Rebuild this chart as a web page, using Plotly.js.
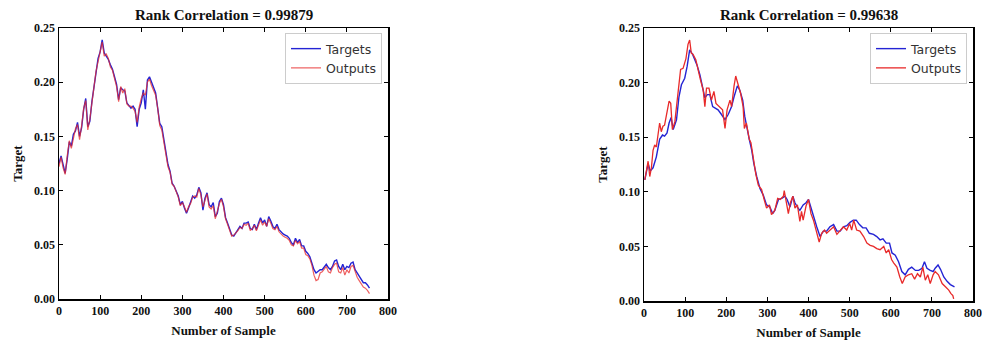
<!DOCTYPE html>
<html>
<head>
<meta charset="utf-8">
<script src="https://cdn.plot.ly/plotly-3.0.1.min.js"></script>
<style>html,body{margin:0;padding:0;background:#fff;}#chart{width:982px;height:340px;}</style>
</head>
<body>
<div id="chart"></div>
<script>
// ---- Left panel data (sample number, step 5) ----
const leftSamples = [0,5,10,15,20,25,30,35,40,45,50,55,60,65,70,75,80,85,90,95,100,105,110,115,120,125,130,135,140,145,150,155,160,165,170,175,180,185,190,195,200,205,210,215,220,225,230,235,240,245,250,255,260,265,270,275,280,285,290,295,300,305,310,315,320,325,330,335,340,345,350,355,360,365,370,375,380,385,390,395,400,405,410,415,420,425,430,435,440,445,450,455,460,465,470,475,480,485,490,495,500,505,510,515,520,525,530,535,540,545,550,555,560,565,570,575,580,585,590,595,600,605,610,615,620,625,630,635,640,645,650,655,660,665,670,675,680,685,690,695,700,705,710,715,720,725,730,735,740,745,750,755];
const leftTargets = [.125,.132,.124,.116,.129,.145,.141,.152,.155,.163,.150,.158,.175,.185,.159,.164,.182,.195,.207,.222,.228,.239,.227,.224,.221,.216,.212,.205,.198,.184,.195,.193,.192,.181,.179,.176,.178,.175,.159,.175,.181,.193,.175,.202,.205,.199,.195,.190,.178,.162,.159,.147,.135,.124,.118,.107,.104,.100,.095,.087,.090,.084,.079,.084,.089,.095,.093,.096,.103,.098,.082,.093,.098,.087,.085,.089,.076,.079,.090,.093,.087,.075,.070,.064,.059,.058,.061,.064,.067,.065,.070,.070,.071,.065,.064,.069,.064,.070,.075,.070,.073,.067,.076,.072,.067,.065,.069,.064,.062,.060,.059,.058,.056,.052,.050,.056,.052,.055,.049,.049,.044,.042,.039,.033,.027,.024,.026,.027,.027,.030,.032,.029,.027,.030,.035,.036,.030,.027,.032,.027,.030,.029,.033,.034,.027,.024,.021,.018,.015,.015,.013,.010];
const leftOutputs = [.122,.131,.121,.115,.132,.146,.139,.149,.157,.161,.147,.160,.176,.183,.156,.166,.180,.197,.210,.219,.230,.237,.224,.226,.222,.214,.211,.204,.196,.182,.196,.190,.194,.180,.178,.178,.176,.173,.163,.177,.185,.190,.188,.200,.203,.197,.192,.188,.176,.160,.156,.145,.132,.122,.117,.106,.104,.099,.094,.086,.089,.085,.080,.085,.088,.094,.095,.094,.102,.096,.085,.091,.097,.085,.083,.086,.074,.081,.088,.092,.085,.074,.069,.063,.058,.059,.061,.063,.066,.065,.069,.068,.070,.063,.065,.068,.063,.068,.073,.068,.071,.067,.074,.070,.065,.064,.067,.062,.060,.058,.057,.056,.054,.050,.049,.054,.051,.053,.047,.047,.041,.040,.037,.031,.022,.017,.018,.024,.025,.028,.030,.025,.024,.029,.032,.033,.025,.024,.029,.022,.027,.024,.030,.031,.025,.020,.017,.014,.011,.010,.008,.005];

// ---- Right panel data ----
const rightTargetSamples = [2,10,15,22,30,38,45,50,56,61,66,71,79,85,91,99,105,111,118,123,129,136,142,148,154,160,167,172,180,188,197,205,213,219,227,233,240,245,249,256,262,267,274,282,290,298,306,313,318,327,335,343,348,355,362,367,373,379,387,394,400,406,412,420,428,436,444,452,461,469,477,485,493,501,509,516,524,532,540,548,558,566,574,581,589,597,603,611,619,627,635,643,651,660,668,676,682,688,696,703,708,715,721,729,737,745,755];
const rightTargets = [.111,.126,.119,.122,.132,.148,.152,.151,.154,.163,.168,.157,.166,.187,.198,.204,.215,.230,.226,.222,.216,.207,.197,.186,.189,.189,.178,.177,.175,.171,.166,.171,.178,.187,.197,.193,.184,.169,.160,.148,.138,.126,.114,.103,.097,.088,.086,.080,.083,.093,.094,.096,.093,.086,.096,.090,.086,.083,.088,.090,.093,.085,.079,.068,.059,.064,.064,.068,.070,.064,.064,.068,.069,.072,.074,.074,.070,.067,.067,.062,.061,.059,.056,.057,.053,.053,.044,.042,.036,.027,.024,.029,.031,.028,.028,.030,.036,.030,.028,.027,.030,.033,.029,.022,.018,.015,.013];
const rightOutputSamples = [2,6,10,14,18,22,26,30,34,38,42,46,50,56,61,65,69,75,79,84,89,95,102,107,111,115,119,126,132,137,144,148,152,158,164,170,175,184,191,197,202,209,213,219,223,229,235,241,244,249,256,260,266,272,278,286,292,298,305,310,318,325,331,339,341,347,351,356,362,367,373,379,383,387,394,400,406,412,420,426,432,439,444,452,461,469,477,485,493,500,505,510,517,525,534,542,550,558,566,574,583,589,595,602,607,615,622,628,635,643,651,658,665,672,678,684,690,696,703,708,716,725,733,741,746,751,753];
const rightOutputs = [.111,.120,.128,.114,.122,.138,.143,.141,.151,.163,.155,.160,.161,.175,.183,.181,.157,.164,.178,.193,.212,.213,.222,.235,.239,.227,.226,.221,.210,.203,.193,.178,.195,.195,.184,.192,.181,.178,.175,.158,.175,.184,.178,.197,.206,.198,.190,.178,.158,.163,.148,.145,.129,.116,.106,.102,.093,.085,.088,.079,.083,.094,.093,.096,.101,.090,.080,.090,.096,.085,.088,.073,.082,.074,.087,.093,.080,.074,.062,.054,.062,.065,.062,.065,.068,.061,.065,.068,.065,.071,.065,.074,.065,.064,.059,.053,.051,.050,.048,.047,.050,.044,.047,.038,.035,.031,.022,.016,.022,.024,.025,.020,.025,.022,.031,.019,.024,.016,.024,.027,.024,.016,.013,.010,.007,.005,.002];

const titles = ["Rank Correlation = 0.99879", "Rank Correlation = 0.99638"];
const seriesNames = ["Targets", "Outputs"];
const xTicks = [0,100,200,300,400,500,600,700,800];
const yTicks = [0.00,0.05,0.10,0.15,0.20,0.25];

const BLUE = '#2424d4', RED = '#e82a2a';
const serif = 'Liberation Serif, Times New Roman, serif';

const traces = [
  {x: leftSamples, y: leftTargets, name: seriesNames[0], mode:'lines', line:{color:BLUE, width:1.4}, xaxis:'x', yaxis:'y', legend:'legend'},
  {x: leftSamples, y: leftOutputs, name: seriesNames[1], mode:'lines', line:{color:RED, width:1.2}, opacity:0.75, xaxis:'x', yaxis:'y', legend:'legend'},
  {x: rightTargetSamples, y: rightTargets, name: seriesNames[0], mode:'lines', line:{color:BLUE, width:1.4}, xaxis:'x2', yaxis:'y2', legend:'legend2'},
  {x: rightOutputSamples, y: rightOutputs, name: seriesNames[1], mode:'lines', line:{color:RED, width:1.3}, xaxis:'x2', yaxis:'y2', legend:'legend2'}
];

function xAxis(domain, anchor){
  return {domain: domain, anchor: anchor, range:[0,800], tickvals:xTicks, ticktext:xTicks.map(String),
    ticks:'inside', ticklen:4, tickwidth:1, tickcolor:'#000', showline:true, linecolor:'#000', linewidth:1.5, mirror:'ticks',
    showgrid:false, zeroline:false, tickfont:{family:serif, size:12, color:'#111', weight:'bold'},
    title:{text:'Number of Sample', font:{family:serif, size:13, color:'#111', weight:'bold'}, standoff:9}};
}
function yAxis(domain, anchor){
  return {domain: domain, anchor: anchor, range:[0,0.25], tickvals:yTicks, ticktext:yTicks.map(v=>v.toFixed(2)),
    ticks:'inside', ticklen:4, tickwidth:1, tickcolor:'#000', showline:true, linecolor:'#000', linewidth:1.5, mirror:'ticks',
    showgrid:false, zeroline:false, tickfont:{family:serif, size:12, color:'#111', weight:'bold'},
    title:{text:'Target', font:{family:serif, size:13, color:'#111', weight:'bold'}, standoff:8}};
}
const legendStyle = {font:{family:'DejaVu Sans, sans-serif', size:12.5, color:'#333'}, itemwidth:30, tracegroupgap:0, bgcolor:'rgba(255,255,255,0.9)', bordercolor:'#cccccc', borderwidth:1, xanchor:'right', yanchor:'top'};

const layout = {
  width:982, height:340, margin:{l:0,r:0,t:0,b:0}, paper_bgcolor:'#fff', plot_bgcolor:'#fff',
  xaxis: xAxis([59/982, 388/982], 'y'),
  yaxis: yAxis([1-299/340, 1-28/340], 'x'),
  xaxis2: xAxis([644/982, 973/982], 'y2'),
  yaxis2: yAxis([1-301/340, 1-28/340], 'x2'),
  legend: Object.assign({x:382/982, y:1-33/340}, legendStyle),
  legend2: Object.assign({x:967/982, y:1-33/340}, legendStyle),
  showlegend:true,
  annotations: [
    {text:'<b>'+titles[0]+'</b>', xref:'paper', yref:'paper', x:(59+388)/2/982, y:1-15/340, xanchor:'center', yanchor:'middle', showarrow:false, font:{family:serif, size:15, color:'#111'}},
    {text:'<b>'+titles[1]+'</b>', xref:'paper', yref:'paper', x:(644+973)/2/982, y:1-15/340, xanchor:'center', yanchor:'middle', showarrow:false, font:{family:serif, size:15, color:'#111'}}
  ]
};
Plotly.newPlot('chart', traces, layout, {displayModeBar:false, staticPlot:true});
</script>
</body>
</html>
